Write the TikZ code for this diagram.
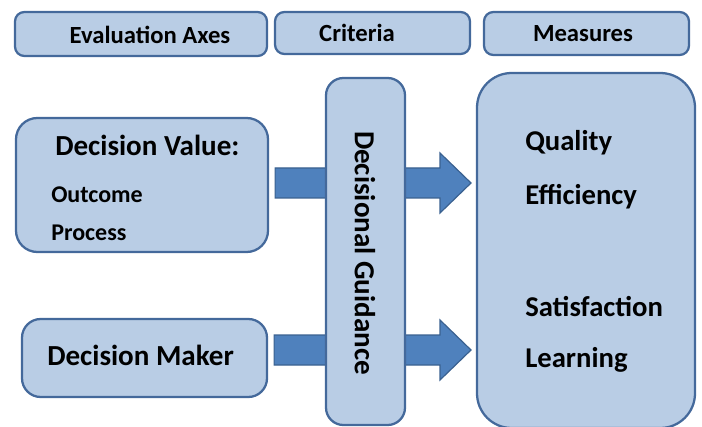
\documentclass[tikz,border=0pt]{standalone}
\usepackage{fontspec}
\setmainfont{Carlito}
\usetikzlibrary{calc,fit}
\definecolor{boxfill}{HTML}{B9CDE5}
\definecolor{boxline}{HTML}{44699B}
\definecolor{arrfill}{HTML}{4F81BD}
\definecolor{arrline}{HTML}{3A6190}
\tikzset{
  panel/.style={draw=boxline, fill=boxfill, line width=1.7pt, inner sep=0pt},
  hdr/.style={font=\bfseries\fontsize{18.5pt}{20pt}\selectfont},
  bigtxt/.style={font=\bfseries\fontsize{21.8pt}{24pt}\selectfont, anchor=west, inner sep=0pt},
  smalltxt/.style={font=\bfseries\fontsize{18pt}{20pt}\selectfont, anchor=west, inner sep=0pt},
  meastxt/.style={font=\bfseries\fontsize{21.5pt}{24pt}\selectfont, anchor=west, inner sep=0pt},
  blockarrow/.style={draw=arrline, fill=arrfill, line width=0.9pt, line join=miter},
}
% block arrow from #1 to #2 (shaft half-height 15, head half-height 30, head length 31)
\newcommand{\blockarr}[2]{%
  \draw[blockarrow] ($(#1)+(0,-15)$) -- ($(#2)+(-31,-15)$) -- ($(#2)+(-31,-30)$)
    -- (#2) -- ($(#2)+(-31,30)$) -- ($(#2)+(-31,15)$) -- ($(#1)+(0,15)$) -- cycle;}
\begin{document}
\begin{tikzpicture}[x=0.75pt, y=-0.75pt]
\useasboundingbox (0,0) rectangle (702,427);

% column headers
\node[panel, rounded corners=7pt, fit={(15,12) (267,56)}] (axes) {};
\node[hdr] at (150,35) {Evaluation Axes};
\node[panel, rounded corners=7pt, fit={(275,12) (470,54)}] (crit) {};
\node[hdr] at (357,33) {Criteria};
\node[panel, rounded corners=7pt, fit={(484,12) (689,55)}] (meashdr) {};
\node[hdr] at (583,34) {Measures};

% left column boxes
\node[panel, rounded corners=16pt, fit={(16,118) (268,252)}] (dv) {};
\node[bigtxt] (dvt) at (55,145) {Decision Value:};
\node[smalltxt] (out) at (51,195) {Outcome};
\node[smalltxt] (proc) at (51,233) {Process};
\node[panel, rounded corners=14pt, fit={(22,319) (267,397)}] (dm) {};
\node[bigtxt] (dmt) at (47,355) {Decision Maker};

% named ends of the block arrows
\coordinate (a1s) at (dv.east |- 0,183);
\coordinate (a1e) at (471,183);
\coordinate (a2s) at (dm.east |- 0,350);
\coordinate (a2e) at (471,350);
\coordinate (a1s') at ($(a1s)+(6,0)$);
\coordinate (a2s') at ($(a2s)+(6,0)$);
\blockarr{a1s'}{a1e}
\blockarr{a2s'}{a2e}

% criteria column (on top of the arrows)
\node[panel, rounded corners=13pt, fit={(326,78) (405,425)}] (guide) {};
\node[font=\bfseries\fontsize{21.8pt}{24pt}\selectfont, rotate=-90] at (365,253) {Decisional Guidance};

% measures column
\node[panel, rounded corners=26pt, fit={(477,73) (695,428)}] (meas) {};
\node[meastxt] (q) at (525,143) {Quality};
\node[meastxt] (e) at (525,197) {Efficiency};
\node[meastxt] (s) at (525,307) {Satisfaction};
\node[meastxt] (l) at (525,360) {Learning};
\end{tikzpicture}
\end{document}
